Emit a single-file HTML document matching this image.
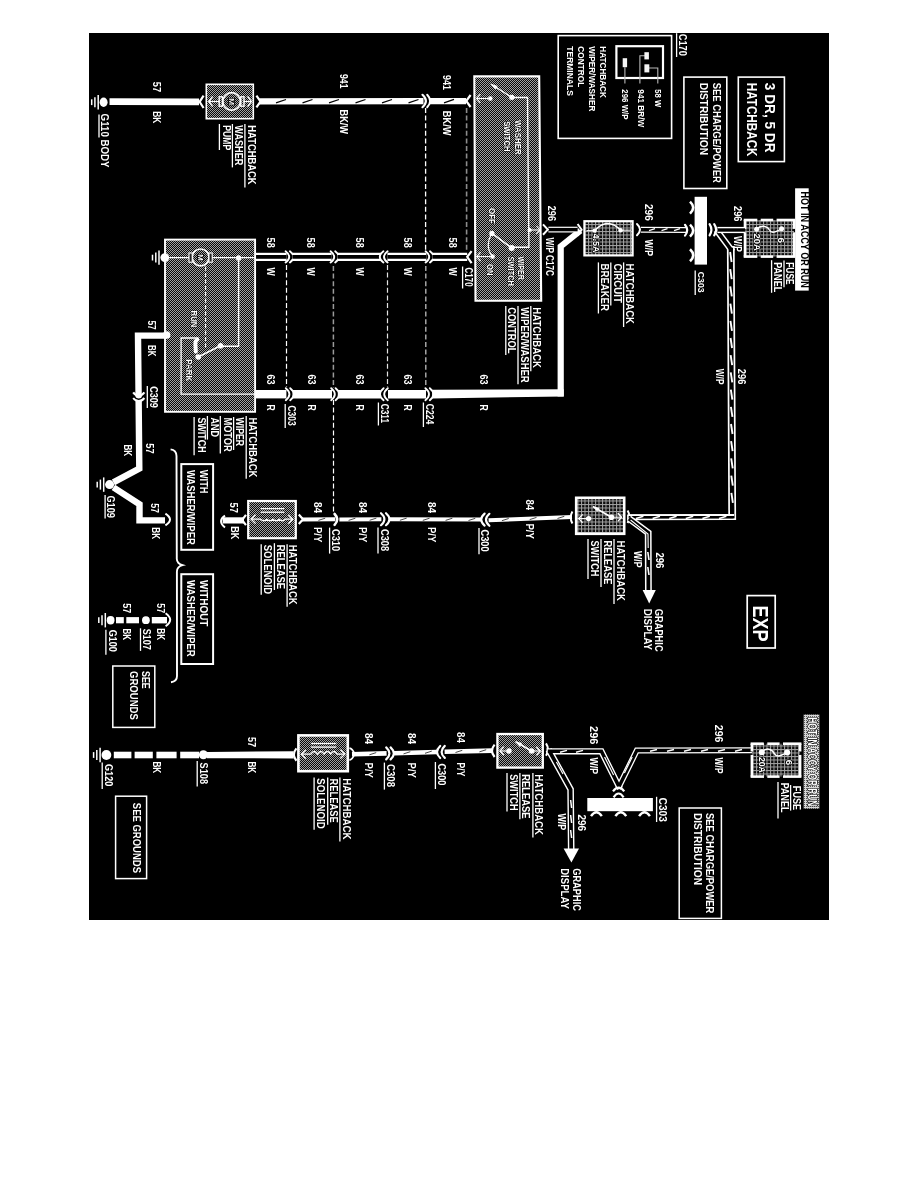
<!DOCTYPE html>
<html lang="en"><head><meta charset="utf-8"><title>EXP Hatchback Wiper/Washer and Release Wiring Diagram</title>
<style>
html,body{margin:0;padding:0;background:#fff;}
body{width:918px;height:1188px;overflow:hidden;font-family:"Liberation Sans", sans-serif;}
svg{display:block;position:absolute;left:0;top:0;will-change:transform;}
svg text{font-family:"Liberation Sans", sans-serif;}
</style></head><body>
<svg width="918" height="1188" viewBox="0 0 918 1188">
<defs>
<pattern id="dz" width="2" height="2" patternUnits="userSpaceOnUse">
<rect width="2" height="2" fill="#080808"/><rect x="0" y="0" width="1" height="1" fill="#a2a2a2"/><rect x="1" y="1" width="1" height="1" fill="#a2a2a2"/>
</pattern>
<pattern id="gr" width="3.5" height="3.5" patternUnits="userSpaceOnUse">
<rect width="3.5" height="3.5" fill="#0a0a0a"/><rect x="0" y="0" width="3.5" height="1" fill="#a4a4a4"/><rect x="0" y="0" width="1" height="3.5" fill="#a4a4a4"/>
</pattern>
<pattern id="lt" width="2" height="2" patternUnits="userSpaceOnUse">
<rect width="2" height="2" fill="#d6d6d6"/><rect x="0" y="0" width="1" height="1" fill="#5a5a5a"/>
</pattern>
</defs>
<rect x="0" y="0" width="918" height="1188" fill="#fff"/>
<rect x="89" y="33" width="740" height="887" fill="#000"/>

<ellipse cx="103.6" cy="102.2" rx="4.0" ry="4.7" fill="#fff"/>
<line x1="98.2" y1="95.0" x2="98.2" y2="109.4" stroke="#fff" stroke-width="1.5"/>
<line x1="94.9" y1="97.2" x2="94.9" y2="107.2" stroke="#fff" stroke-width="1.5"/>
<line x1="91.7" y1="99.3" x2="91.7" y2="105.1" stroke="#fff" stroke-width="1.5"/>
<path d="M109.5 101.6 L199.0 101.9" fill="none" stroke="#fff" stroke-width="6.9" stroke-linejoin="miter"/>
<text transform="translate(153.2 81.8) rotate(90)" font-size="10.3" font-weight="bold" fill="#fff" textLength="10.3" lengthAdjust="spacingAndGlyphs" >57</text>
<text transform="translate(153.2 111.2) rotate(90)" font-size="10.3" font-weight="bold" fill="#fff" textLength="12.2" lengthAdjust="spacingAndGlyphs" >BK</text>
<text transform="translate(101.2 113.6) rotate(90)" font-size="10.3" font-weight="bold" fill="#fff" textLength="53.9" lengthAdjust="spacingAndGlyphs" >G110 BODY</text>
<line x1="99.0" y1="114.6" x2="99.0" y2="137.6" stroke="#fff" stroke-width="1.3"/>
<rect x="206.3" y="84.3" width="47.0" height="34.4" fill="url(#dz)" stroke="#fff" stroke-width="1.6" />
<circle cx="231.6" cy="101.5" r="8.8" fill="none" stroke="#fff" stroke-width="1.8"/>
<text transform="translate(228.9 98.2) rotate(90)" font-size="8" font-weight="bold" fill="#fff" textLength="6.8" lengthAdjust="spacingAndGlyphs" paint-order="stroke" stroke="#000" stroke-width="1.6">M</text>
<rect x="219.2" y="96.8" width="3.2" height="9.4" fill="none" stroke="#fff" stroke-width="1.4" />
<rect x="240.8" y="96.8" width="3.2" height="9.4" fill="none" stroke="#fff" stroke-width="1.4" />
<path d="M208.8 101.5 L219.3 101.5" fill="none" stroke="#fff" stroke-width="1.2" />
<path d="M243.8 101.5 L251.4 101.5" fill="none" stroke="#fff" stroke-width="1.2" />
<path d="M212.6 96.4 L208.8 101.5 L212.6 106.6" fill="none" stroke="#fff" stroke-width="1.3" />
<path d="M247.6 96.4 L251.4 101.5 L247.6 106.6" fill="none" stroke="#fff" stroke-width="1.3" />
<path d="M203.6 95.6 L199.6 101.8 L203.6 108.0" fill="none" stroke="#fff" stroke-width="2.2" />
<path d="M256.4 95.6 L260.6 101.5 L256.4 107.4" fill="none" stroke="#fff" stroke-width="2.2" />
<text transform="translate(248.0 125.3) rotate(90)" font-size="10.6" font-weight="bold" fill="#fff" textLength="59.3" lengthAdjust="spacingAndGlyphs" >HATCHBACK</text>
<line x1="244.9" y1="124.0" x2="244.9" y2="187.6" stroke="#fff" stroke-width="1.3"/>
<text transform="translate(235.2 125.3) rotate(90)" font-size="10.6" font-weight="bold" fill="#fff" textLength="40.1" lengthAdjust="spacingAndGlyphs" >WASHER</text>
<line x1="232.4" y1="124.0" x2="232.4" y2="167.4" stroke="#fff" stroke-width="1.3"/>
<text transform="translate(222.5 125.3) rotate(90)" font-size="10.6" font-weight="bold" fill="#fff" textLength="25.0" lengthAdjust="spacingAndGlyphs" >PUMP</text>
<line x1="219.4" y1="124.0" x2="219.4" y2="150.0" stroke="#fff" stroke-width="1.3"/>
<path d="M259.5 101.4 L423.5 101.1" fill="none" stroke="#fff" stroke-width="6.4" stroke-linejoin="miter"/>
<line x1="276.0" y1="102.9" x2="286.0" y2="99.5" stroke="#000" stroke-width="1.3"/>
<line x1="302.5" y1="102.9" x2="312.5" y2="99.5" stroke="#000" stroke-width="1.3"/>
<line x1="329.0" y1="102.9" x2="339.0" y2="99.5" stroke="#000" stroke-width="1.3"/>
<line x1="355.5" y1="102.9" x2="365.5" y2="99.5" stroke="#000" stroke-width="1.3"/>
<line x1="382.0" y1="102.9" x2="392.0" y2="99.5" stroke="#000" stroke-width="1.3"/>
<line x1="408.5" y1="102.9" x2="418.5" y2="99.5" stroke="#000" stroke-width="1.3"/>
<path d="M422.5 94.8 Q429.3 101.0 422.5 107.2" fill="none" stroke="#fff" stroke-width="2.2" stroke-linecap="round"/>
<path d="M427.2 94.8 Q433.2 101.0 427.2 107.2" fill="none" stroke="#fff" stroke-width="2.0" stroke-linecap="round"/>
<path d="M429.5 101.1 L466.0 101.1" fill="none" stroke="#fff" stroke-width="6.2" stroke-linejoin="miter"/>
<line x1="444.0" y1="102.8" x2="454.0" y2="99.4" stroke="#000" stroke-width="1.3"/>
<path d="M470.6 95.0 L466.2 101.0 L470.6 107.0" fill="none" stroke="#fff" stroke-width="2.2" />
<text transform="translate(340.0 74.0) rotate(90)" font-size="10.0" font-weight="bold" fill="#fff" textLength="14.6" lengthAdjust="spacingAndGlyphs" >941</text>
<text transform="translate(340.0 109.5) rotate(90)" font-size="10.0" font-weight="bold" fill="#fff" textLength="24.5" lengthAdjust="spacingAndGlyphs" >BK/W</text>
<text transform="translate(442.8 75.0) rotate(90)" font-size="10.0" font-weight="bold" fill="#fff" textLength="15.0" lengthAdjust="spacingAndGlyphs" >941</text>
<text transform="translate(442.8 110.8) rotate(90)" font-size="10.0" font-weight="bold" fill="#fff" textLength="24.7" lengthAdjust="spacingAndGlyphs" >BK/W</text>
<line x1="425.6" y1="108.0" x2="425.6" y2="251.0" stroke="#fff" stroke-width="1.3" stroke-dasharray="5 2.6"/>
<line x1="466.6" y1="108.0" x2="466.6" y2="250.0" stroke="#8c8c8c" stroke-width="1.6" stroke-dasharray="5 2.6"/>
<path d="M474.3 76.4 L539.2 76.4 L541.2 300.8 L475.5 300.8 Z" fill="url(#dz)" stroke="#fff" stroke-width="2.1"/>
<path d="M476.6 98.5 L490.3 98.5" fill="none" stroke="#fff" stroke-width="1.1" />
<path d="M480.4 94.2 L476.6 98.5 L480.4 102.8" fill="none" stroke="#fff" stroke-width="1.2" />
<circle cx="490.3" cy="98.5" r="2.3" fill="#fff" stroke="none" stroke-width="0"/>
<circle cx="511.8" cy="97.3" r="2.6" fill="#fff" stroke="none" stroke-width="0"/>
<path d="M511.8 97.3 L492.0 84.8" fill="none" stroke="#fff" stroke-width="1.3" />
<path d="M490.2 83.6 L497.6 86.0 L495.4 89.4 Z" fill="#fff"/>
<path d="M511.8 97.5 L527.5 97.5 L528.9 247.2 L511.6 247.2" fill="none" stroke="#fff" stroke-width="1.4" />
<text transform="translate(515.2 120.0) rotate(90)" font-size="9.2" font-weight="bold" fill="#fff" textLength="34.7" lengthAdjust="spacingAndGlyphs" paint-order="stroke" stroke="#000" stroke-width="0.9">WASHER</text>
<text transform="translate(504.3 121.2) rotate(90)" font-size="9.2" font-weight="bold" fill="#fff" textLength="30.3" lengthAdjust="spacingAndGlyphs" paint-order="stroke" stroke="#000" stroke-width="0.9">SWITCH</text>
<circle cx="529.6" cy="230.0" r="2.1" fill="#fff" stroke="none" stroke-width="0"/>
<path d="M529.6 230.0 L540.5 230.0" fill="none" stroke="#fff" stroke-width="1.1" />
<path d="M536.4 226.0 L540.0 230.0 L536.4 234.0" fill="none" stroke="#fff" stroke-width="1.1" />
<circle cx="511.6" cy="248.0" r="3.0" fill="#fff" stroke="none" stroke-width="0"/>
<path d="M511.6 248.0 L492.4 233.6" fill="none" stroke="#fff" stroke-width="1.5" />
<circle cx="491.9" cy="233.4" r="2.6" fill="#fff" stroke="none" stroke-width="0"/>
<path d="M491.6 233.6 Q484.5 246 492.4 256.4" fill="none" stroke="#fff" stroke-width="1.2"/>
<circle cx="492.6" cy="256.6" r="2.3" fill="#fff" stroke="none" stroke-width="0"/>
<path d="M476.8 256.6 L492.6 256.6" fill="none" stroke="#fff" stroke-width="1.1" />
<path d="M480.6 252.2 L476.8 256.6 L480.6 261.0" fill="none" stroke="#fff" stroke-width="1.2" />
<text transform="translate(488.6 208.0) rotate(90)" font-size="8.8" font-weight="bold" fill="#fff" textLength="16.0" lengthAdjust="spacingAndGlyphs" paint-order="stroke" stroke="#000" stroke-width="0.9">OFF</text>
<text transform="translate(487.4 264.0) rotate(90)" font-size="8.8" font-weight="bold" fill="#fff" textLength="11.5" lengthAdjust="spacingAndGlyphs" paint-order="stroke" stroke="#000" stroke-width="0.9">ON</text>
<text transform="translate(518.3 256.5) rotate(90)" font-size="9.0" font-weight="bold" fill="#fff" textLength="23.5" lengthAdjust="spacingAndGlyphs" paint-order="stroke" stroke="#000" stroke-width="0.9">WIPER</text>
<text transform="translate(507.7 256.5) rotate(90)" font-size="9.0" font-weight="bold" fill="#fff" textLength="29.5" lengthAdjust="spacingAndGlyphs" paint-order="stroke" stroke="#000" stroke-width="0.9">SWITCH</text>
<text transform="translate(533.2 307.3) rotate(90)" font-size="10.4" font-weight="bold" fill="#fff" textLength="60.7" lengthAdjust="spacingAndGlyphs" >HATCHBACK</text>
<line x1="530.8" y1="306.0" x2="530.8" y2="371.2" stroke="#fff" stroke-width="1.3"/>
<text transform="translate(520.7 307.3) rotate(90)" font-size="10.4" font-weight="bold" fill="#fff" textLength="75.4" lengthAdjust="spacingAndGlyphs" >WIPER/WASHER</text>
<line x1="518.0" y1="306.0" x2="518.0" y2="384.3" stroke="#fff" stroke-width="1.3"/>
<text transform="translate(508.2 307.3) rotate(90)" font-size="10.4" font-weight="bold" fill="#fff" textLength="46.1" lengthAdjust="spacingAndGlyphs" >CONTROL</text>
<line x1="505.8" y1="306.0" x2="505.8" y2="355.0" stroke="#fff" stroke-width="1.3"/>
<path d="M255.5 256.9 L286.6 256.9" fill="none" stroke="#fff" stroke-width="8.2" stroke-linejoin="miter"/>
<path d="M255.5 256.9 L286.6 256.9" fill="none" stroke="#000" stroke-width="3.8" stroke-linejoin="miter"/>
<path d="M285.6 251.3 Q292.8 256.9 285.6 262.5" fill="none" stroke="#fff" stroke-width="1.9" stroke-linecap="round"/>
<path d="M289.9 251.3 Q297.1 256.9 289.9 262.5" fill="none" stroke="#fff" stroke-width="1.9" stroke-linecap="round"/>
<path d="M292.4 256.9 L331.6 256.9" fill="none" stroke="#fff" stroke-width="8.2" stroke-linejoin="miter"/>
<path d="M292.4 256.9 L331.6 256.9" fill="none" stroke="#000" stroke-width="3.8" stroke-linejoin="miter"/>
<path d="M330.6 251.3 Q337.8 256.9 330.6 262.5" fill="none" stroke="#fff" stroke-width="1.9" stroke-linecap="round"/>
<path d="M335.2 251.3 Q342.4 256.9 335.2 262.5" fill="none" stroke="#fff" stroke-width="1.9" stroke-linecap="round"/>
<path d="M337.6 256.9 L381.0 256.9" fill="none" stroke="#fff" stroke-width="8.2" stroke-linejoin="miter"/>
<path d="M337.6 256.9 L381.0 256.9" fill="none" stroke="#000" stroke-width="3.8" stroke-linejoin="miter"/>
<path d="M383.4 251.3 Q376.2 256.9 383.4 262.5" fill="none" stroke="#fff" stroke-width="1.9" stroke-linecap="round"/>
<path d="M387.6 251.3 Q380.4 256.9 387.6 262.5" fill="none" stroke="#fff" stroke-width="1.9" stroke-linecap="round"/>
<path d="M387.4 256.9 L426.4 256.9" fill="none" stroke="#fff" stroke-width="8.2" stroke-linejoin="miter"/>
<path d="M387.4 256.9 L426.4 256.9" fill="none" stroke="#000" stroke-width="3.8" stroke-linejoin="miter"/>
<path d="M425.6 251.3 Q432.8 256.9 425.6 262.5" fill="none" stroke="#fff" stroke-width="1.9" stroke-linecap="round"/>
<path d="M430.0 251.3 Q437.2 256.9 430.0 262.5" fill="none" stroke="#fff" stroke-width="1.9" stroke-linecap="round"/>
<path d="M432.4 256.9 L467.2 256.9" fill="none" stroke="#fff" stroke-width="8.2" stroke-linejoin="miter"/>
<path d="M432.4 256.9 L467.2 256.9" fill="none" stroke="#000" stroke-width="3.8" stroke-linejoin="miter"/>
<path d="M471.6 251.2 L467.2 256.9 L471.6 263.2" fill="none" stroke="#fff" stroke-width="2.2" />
<text transform="translate(266.5 237.6) rotate(90)" font-size="10.0" font-weight="bold" fill="#fff" textLength="10.1" lengthAdjust="spacingAndGlyphs" >58</text>
<text transform="translate(266.5 267.4) rotate(90)" font-size="10.0" font-weight="bold" fill="#fff" textLength="8.2" lengthAdjust="spacingAndGlyphs" >W</text>
<text transform="translate(306.5 237.6) rotate(90)" font-size="10.0" font-weight="bold" fill="#fff" textLength="10.1" lengthAdjust="spacingAndGlyphs" >58</text>
<text transform="translate(306.5 267.4) rotate(90)" font-size="10.0" font-weight="bold" fill="#fff" textLength="8.2" lengthAdjust="spacingAndGlyphs" >W</text>
<text transform="translate(355.8 237.6) rotate(90)" font-size="10.0" font-weight="bold" fill="#fff" textLength="10.1" lengthAdjust="spacingAndGlyphs" >58</text>
<text transform="translate(355.8 267.4) rotate(90)" font-size="10.0" font-weight="bold" fill="#fff" textLength="8.2" lengthAdjust="spacingAndGlyphs" >W</text>
<text transform="translate(403.7 237.6) rotate(90)" font-size="10.0" font-weight="bold" fill="#fff" textLength="10.1" lengthAdjust="spacingAndGlyphs" >58</text>
<text transform="translate(403.7 267.4) rotate(90)" font-size="10.0" font-weight="bold" fill="#fff" textLength="8.2" lengthAdjust="spacingAndGlyphs" >W</text>
<text transform="translate(448.7 237.6) rotate(90)" font-size="10.0" font-weight="bold" fill="#fff" textLength="10.1" lengthAdjust="spacingAndGlyphs" >58</text>
<text transform="translate(448.7 267.4) rotate(90)" font-size="10.0" font-weight="bold" fill="#fff" textLength="8.2" lengthAdjust="spacingAndGlyphs" >W</text>
<text transform="translate(465.2 267.6) rotate(90)" font-size="10.0" font-weight="bold" fill="#fff" textLength="19.0" lengthAdjust="spacingAndGlyphs" >C170</text>
<line x1="462.6" y1="266.5" x2="462.6" y2="288.5" stroke="#fff" stroke-width="1.3"/>
<line x1="286.5" y1="265.0" x2="286.5" y2="387.0" stroke="#fff" stroke-width="1.2" stroke-dasharray="5 2.6"/>
<line x1="333.4" y1="266.0" x2="333.4" y2="388.0" stroke="#9a9a9a" stroke-width="1.5" stroke-dasharray="5 2.6"/>
<line x1="333.5" y1="400.0" x2="333.5" y2="514.0" stroke="#fff" stroke-width="1.2" stroke-dasharray="5 2.6"/>
<line x1="387.5" y1="265.0" x2="387.5" y2="387.0" stroke="#e4e4e4" stroke-width="1.2" stroke-dasharray="5 2.6"/>
<line x1="425.8" y1="266.0" x2="425.8" y2="386.0" stroke="#bdbdbd" stroke-width="1.3" stroke-dasharray="5 2.6"/>
<path d="M255.5 394.2 L286.4 394.2" fill="none" stroke="#fff" stroke-width="8.4" stroke-linejoin="miter"/>
<path d="M285.8 388.2 Q293.0 394.2 285.8 400.2" fill="none" stroke="#fff" stroke-width="1.9" stroke-linecap="round"/>
<path d="M290.2 388.2 Q297.4 394.2 290.2 400.2" fill="none" stroke="#fff" stroke-width="1.9" stroke-linecap="round"/>
<path d="M292.6 394.2 L332.0 394.2" fill="none" stroke="#fff" stroke-width="8.4" stroke-linejoin="miter"/>
<path d="M331.2 388.2 Q338.4 394.2 331.2 400.2" fill="none" stroke="#fff" stroke-width="1.9" stroke-linecap="round"/>
<path d="M335.6 388.2 Q342.8 394.2 335.6 400.2" fill="none" stroke="#fff" stroke-width="1.9" stroke-linecap="round"/>
<path d="M337.8 394.2 L380.6 394.2" fill="none" stroke="#fff" stroke-width="8.4" stroke-linejoin="miter"/>
<path d="M383.6 388.2 Q376.4 394.2 383.6 400.2" fill="none" stroke="#fff" stroke-width="1.9" stroke-linecap="round"/>
<path d="M387.8 388.2 Q380.6 394.2 387.8 400.2" fill="none" stroke="#fff" stroke-width="1.9" stroke-linecap="round"/>
<path d="M388.0 394.2 L426.0 394.2" fill="none" stroke="#fff" stroke-width="8.4" stroke-linejoin="miter"/>
<path d="M425.4 388.2 Q432.6 394.2 425.4 400.2" fill="none" stroke="#fff" stroke-width="1.9" stroke-linecap="round"/>
<path d="M429.8 388.2 Q437.0 394.2 429.8 400.2" fill="none" stroke="#fff" stroke-width="1.9" stroke-linecap="round"/>
<path d="M432.2 389.8 L563.7 389.2 L563.7 396.6 L432.2 398.4 Z" fill="#fff"/>
<path d="M560.7 396.6 L560.7 246.4 L580.4 230.6" fill="none" stroke="#fff" stroke-width="6.2" stroke-linejoin="miter"/>
<text transform="translate(266.5 374.4) rotate(90)" font-size="10.0" font-weight="bold" fill="#fff" textLength="10.0" lengthAdjust="spacingAndGlyphs" >63</text>
<text transform="translate(266.5 404.4) rotate(90)" font-size="10.0" font-weight="bold" fill="#fff" textLength="6.2" lengthAdjust="spacingAndGlyphs" >R</text>
<text transform="translate(308.3 374.4) rotate(90)" font-size="10.0" font-weight="bold" fill="#fff" textLength="10.0" lengthAdjust="spacingAndGlyphs" >63</text>
<text transform="translate(308.3 404.4) rotate(90)" font-size="10.0" font-weight="bold" fill="#fff" textLength="6.2" lengthAdjust="spacingAndGlyphs" >R</text>
<text transform="translate(355.8 374.4) rotate(90)" font-size="10.0" font-weight="bold" fill="#fff" textLength="10.0" lengthAdjust="spacingAndGlyphs" >63</text>
<text transform="translate(355.8 404.4) rotate(90)" font-size="10.0" font-weight="bold" fill="#fff" textLength="6.2" lengthAdjust="spacingAndGlyphs" >R</text>
<text transform="translate(404.2 374.4) rotate(90)" font-size="10.0" font-weight="bold" fill="#fff" textLength="10.0" lengthAdjust="spacingAndGlyphs" >63</text>
<text transform="translate(404.2 404.4) rotate(90)" font-size="10.0" font-weight="bold" fill="#fff" textLength="6.2" lengthAdjust="spacingAndGlyphs" >R</text>
<text transform="translate(480.0 374.4) rotate(90)" font-size="10.0" font-weight="bold" fill="#fff" textLength="10.0" lengthAdjust="spacingAndGlyphs" >63</text>
<text transform="translate(480.0 404.4) rotate(90)" font-size="10.0" font-weight="bold" fill="#fff" textLength="6.2" lengthAdjust="spacingAndGlyphs" >R</text>
<text transform="translate(287.6 405.5) rotate(90)" font-size="10.0" font-weight="bold" fill="#fff" textLength="20.2" lengthAdjust="spacingAndGlyphs" >C303</text>
<line x1="285.2" y1="404.0" x2="285.2" y2="428.0" stroke="#fff" stroke-width="1.3"/>
<text transform="translate(381.0 403.7) rotate(90)" font-size="10.0" font-weight="bold" fill="#fff" textLength="19.3" lengthAdjust="spacingAndGlyphs" >C311</text>
<line x1="378.4" y1="402.5" x2="378.4" y2="425.5" stroke="#fff" stroke-width="1.3"/>
<text transform="translate(426.0 403.7) rotate(90)" font-size="10.0" font-weight="bold" fill="#fff" textLength="20.7" lengthAdjust="spacingAndGlyphs" >C224</text>
<line x1="423.4" y1="402.5" x2="423.4" y2="427.0" stroke="#fff" stroke-width="1.3"/>
<rect x="165.0" y="239.6" width="90.1" height="172.2" fill="url(#dz)" stroke="#fff" stroke-width="1.9" />
<ellipse cx="164.8" cy="257.6" rx="4.4" ry="4.4" fill="#fff"/>
<line x1="159.0" y1="250.4" x2="159.0" y2="264.8" stroke="#fff" stroke-width="1.5"/>
<line x1="155.8" y1="252.6" x2="155.8" y2="262.6" stroke="#fff" stroke-width="1.5"/>
<line x1="152.5" y1="254.7" x2="152.5" y2="260.5" stroke="#fff" stroke-width="1.5"/>
<path d="M165.0 257.6 L255.0 257.6" fill="none" stroke="#fff" stroke-width="1.3" />
<circle cx="200.6" cy="257.4" r="8.4" fill="url(#dz)" stroke="#fff" stroke-width="1.7"/>
<text transform="translate(198.0 254.2) rotate(90)" font-size="7.8" font-weight="bold" fill="#fff" textLength="6.6" lengthAdjust="spacingAndGlyphs" paint-order="stroke" stroke="#000" stroke-width="1.6">M</text>
<rect x="189.0" y="253.0" width="3.2" height="9.2" fill="#222" stroke="#fff" stroke-width="1.1" />
<rect x="209.0" y="253.0" width="3.2" height="9.2" fill="#222" stroke="#fff" stroke-width="1.1" />
<circle cx="238.6" cy="257.9" r="2.7" fill="#fff" stroke="none" stroke-width="0"/>
<path d="M238.6 257.8 L238.6 346.2 L220.4 346.2" fill="none" stroke="#fff" stroke-width="1.4" />
<circle cx="220.5" cy="345.8" r="2.8" fill="#fff" stroke="none" stroke-width="0"/>
<path d="M220.5 345.8 L198.2 357.0" fill="none" stroke="#fff" stroke-width="1.7" />
<circle cx="198.2" cy="357.0" r="2.8" fill="#fff" stroke="none" stroke-width="0"/>
<line x1="205.6" y1="266.5" x2="205.6" y2="347.5" stroke="#fff" stroke-width="1.1" stroke-dasharray="4.2 2.2"/>
<text transform="translate(191.2 310.5) rotate(90)" font-size="9.0" font-weight="bold" fill="#fff" textLength="16.9" lengthAdjust="spacingAndGlyphs" paint-order="stroke" stroke="#000" stroke-width="0.9">RUN</text>
<text transform="translate(186.2 359.2) rotate(90)" font-size="8.8" font-weight="bold" fill="#fff" textLength="22.0" lengthAdjust="spacingAndGlyphs" paint-order="stroke" stroke="#000" stroke-width="0.9">PARK</text>
<path d="M197.4 339.6 Q195.2 340.4 195.4 344 L195.8 351.6" fill="none" stroke="#fff" stroke-width="4.0" stroke-linecap="round" stroke-linejoin="round"/>
<path d="M198.4 338.0 L181.1 338.0 L181.1 394.2 L255.0 394.2" fill="none" stroke="#fff" stroke-width="1.3" />
<circle cx="166.6" cy="335.0" r="3.8" fill="#fff" stroke="none" stroke-width="0"/>
<path d="M166.6 335.6 L138.0 335.6 L139.3 468.6 L113.4 482.4" fill="none" stroke="#fff" stroke-width="6.4" stroke-linejoin="miter"/>
<text transform="translate(147.8 320.4) rotate(90)" font-size="10.0" font-weight="bold" fill="#fff" textLength="9.4" lengthAdjust="spacingAndGlyphs" >57</text>
<text transform="translate(147.8 345.0) rotate(90)" font-size="10.0" font-weight="bold" fill="#fff" textLength="11.4" lengthAdjust="spacingAndGlyphs" >BK</text>
<path d="M133.2 392.4 Q138.6 399.8 144.4 392.4" fill="none" stroke="#fff" stroke-width="2.2"/>
<path d="M133.4 396.0 Q138.6 402.6 144.2 396.0" fill="none" stroke="#000" stroke-width="1.5"/>
<path d="M133.2 398.0 Q138.6 404.8 144.4 398.0" fill="none" stroke="#fff" stroke-width="2.0"/>
<text transform="translate(149.7 386.3) rotate(90)" font-size="10.0" font-weight="bold" fill="#fff" textLength="21.6" lengthAdjust="spacingAndGlyphs" >C309</text>
<line x1="147.3" y1="386.0" x2="147.3" y2="407.9" stroke="#fff" stroke-width="1.3"/>
<text transform="translate(145.6 443.2) rotate(90)" font-size="10.0" font-weight="bold" fill="#fff" textLength="10.5" lengthAdjust="spacingAndGlyphs" >57</text>
<text transform="translate(123.8 444.4) rotate(90)" font-size="10.0" font-weight="bold" fill="#fff" textLength="11.8" lengthAdjust="spacingAndGlyphs" >BK</text>
<ellipse cx="109.6" cy="484.6" rx="4.5" ry="4.5" fill="#fff"/>
<line x1="103.7" y1="477.4" x2="103.7" y2="491.8" stroke="#fff" stroke-width="1.5"/>
<line x1="100.4" y1="479.6" x2="100.4" y2="489.6" stroke="#fff" stroke-width="1.5"/>
<line x1="97.2" y1="481.7" x2="97.2" y2="487.5" stroke="#fff" stroke-width="1.5"/>
<path d="M113.4 487.4 L139.5 504.2 L139.5 520.4 L165.0 520.4" fill="none" stroke="#fff" stroke-width="6.4" stroke-linejoin="miter"/>
<text transform="translate(107.2 495.4) rotate(90)" font-size="10.0" font-weight="bold" fill="#fff" textLength="22.6" lengthAdjust="spacingAndGlyphs" >G109</text>
<line x1="105.1" y1="495.0" x2="105.1" y2="518.4" stroke="#fff" stroke-width="1.3"/>
<text transform="translate(151.4 503.2) rotate(90)" font-size="10.0" font-weight="bold" fill="#fff" textLength="9.8" lengthAdjust="spacingAndGlyphs" >57</text>
<text transform="translate(151.6 527.3) rotate(90)" font-size="10.0" font-weight="bold" fill="#fff" textLength="11.9" lengthAdjust="spacingAndGlyphs" >BK</text>
<path d="M165.4 513.6 Q174.6 519.6 165.4 525.4" fill="none" stroke="#fff" stroke-width="2.0"/>
<text transform="translate(248.6 417.4) rotate(90)" font-size="10.2" font-weight="bold" fill="#fff" textLength="60.1" lengthAdjust="spacingAndGlyphs" >HATCHBACK</text>
<line x1="246.2" y1="416.1" x2="246.2" y2="478.8" stroke="#fff" stroke-width="1.3"/>
<text transform="translate(236.0 417.4) rotate(90)" font-size="10.2" font-weight="bold" fill="#fff" textLength="28.8" lengthAdjust="spacingAndGlyphs" >WIPER</text>
<line x1="233.6" y1="417.0" x2="233.6" y2="450.0" stroke="#fff" stroke-width="1.3"/>
<text transform="translate(223.6 417.4) rotate(90)" font-size="10.2" font-weight="bold" fill="#fff" textLength="34.4" lengthAdjust="spacingAndGlyphs" >MOTOR</text>
<line x1="220.3" y1="416.0" x2="220.3" y2="453.6" stroke="#fff" stroke-width="1.3"/>
<text transform="translate(210.9 417.4) rotate(90)" font-size="10.2" font-weight="bold" fill="#fff" textLength="19.6" lengthAdjust="spacingAndGlyphs" >AND</text>
<line x1="207.4" y1="416.0" x2="207.4" y2="439.6" stroke="#fff" stroke-width="1.3"/>
<text transform="translate(198.3 417.4) rotate(90)" font-size="10.2" font-weight="bold" fill="#fff" textLength="35.3" lengthAdjust="spacingAndGlyphs" >SWITCH</text>
<line x1="194.1" y1="417.0" x2="194.1" y2="455.3" stroke="#fff" stroke-width="1.3"/>
<path d="M170.6 449.4 Q176.4 450.0 176.5 456 L176.8 559 Q177.0 563.6 182.6 565.2 Q177.0 566.8 176.9 571.4 L177.0 676 Q177.0 681.4 171.0 682.2" fill="none" stroke="#fff" stroke-width="1.9"/>
<rect x="181.3" y="464.1" width="31.8" height="85.7" fill="none" stroke="#fff" stroke-width="2.0" />
<text transform="translate(200.0 469.8) rotate(90)" font-size="10.2" font-weight="bold" fill="#fff" textLength="23.8" lengthAdjust="spacingAndGlyphs" >WITH</text>
<text transform="translate(187.2 470.0) rotate(90)" font-size="10.7" font-weight="bold" fill="#fff" textLength="74.7" lengthAdjust="spacingAndGlyphs" >WASHER/WIPER</text>
<rect x="181.3" y="574.2" width="31.8" height="89.8" fill="none" stroke="#fff" stroke-width="2.0" />
<text transform="translate(200.0 580.0) rotate(90)" font-size="10.2" font-weight="bold" fill="#fff" textLength="46.4" lengthAdjust="spacingAndGlyphs" >WITHOUT</text>
<text transform="translate(187.2 580.0) rotate(90)" font-size="10.7" font-weight="bold" fill="#fff" textLength="76.8" lengthAdjust="spacingAndGlyphs" >WASHER/WIPER</text>
<path d="M165.6 613.2 Q174.8 619.8 165.6 626.2" fill="none" stroke="#fff" stroke-width="2.0"/>
<path d="M151.8 620.2 L167.0 620.2" fill="none" stroke="#fff" stroke-width="6.4" stroke-linejoin="miter"/>
<circle cx="145.9" cy="620.2" r="3.9" fill="#fff" stroke="none" stroke-width="0"/>
<path d="M126.3 620.2 L139.0 620.2" fill="none" stroke="#fff" stroke-width="6.2" stroke-linejoin="miter"/>
<path d="M116.0 620.2 L123.8 620.2" fill="none" stroke="#fff" stroke-width="6.2" stroke-linejoin="miter"/>
<ellipse cx="110.6" cy="620.2" rx="3.9" ry="4.2" fill="#fff"/>
<line x1="105.3" y1="613.0" x2="105.3" y2="627.4" stroke="#fff" stroke-width="1.5"/>
<line x1="102.0" y1="615.2" x2="102.0" y2="625.2" stroke="#fff" stroke-width="1.5"/>
<line x1="98.8" y1="617.3" x2="98.8" y2="623.1" stroke="#fff" stroke-width="1.5"/>
<text transform="translate(157.2 603.3) rotate(90)" font-size="10.0" font-weight="bold" fill="#fff" textLength="9.8" lengthAdjust="spacingAndGlyphs" >57</text>
<text transform="translate(157.2 628.3) rotate(90)" font-size="10.0" font-weight="bold" fill="#fff" textLength="11.8" lengthAdjust="spacingAndGlyphs" >BK</text>
<text transform="translate(142.9 628.8) rotate(90)" font-size="10.0" font-weight="bold" fill="#fff" textLength="21.1" lengthAdjust="spacingAndGlyphs" >S107</text>
<line x1="140.5" y1="628.3" x2="140.5" y2="650.9" stroke="#fff" stroke-width="1.3"/>
<text transform="translate(123.3 603.3) rotate(90)" font-size="10.0" font-weight="bold" fill="#fff" textLength="10.0" lengthAdjust="spacingAndGlyphs" >57</text>
<text transform="translate(123.3 628.6) rotate(90)" font-size="10.0" font-weight="bold" fill="#fff" textLength="11.5" lengthAdjust="spacingAndGlyphs" >BK</text>
<text transform="translate(109.1 629.8) rotate(90)" font-size="10.0" font-weight="bold" fill="#fff" textLength="22.1" lengthAdjust="spacingAndGlyphs" >G100</text>
<line x1="105.9" y1="629.8" x2="105.9" y2="654.8" stroke="#fff" stroke-width="1.3"/>
<rect x="112.8" y="666.0" width="42.0" height="61.4" fill="none" stroke="#fff" stroke-width="1.5" />
<text transform="translate(142.0 671.0) rotate(90)" font-size="10.4" font-weight="bold" fill="#fff" textLength="17.8" lengthAdjust="spacingAndGlyphs" >SEE</text>
<text transform="translate(129.6 671.0) rotate(90)" font-size="10.8" font-weight="bold" fill="#fff" textLength="48.8" lengthAdjust="spacingAndGlyphs" >GROUNDS</text>
<path d="M222.6 520.4 L244.0 520.4" fill="none" stroke="#fff" stroke-width="6.2" stroke-linejoin="miter"/>
<path d="M225.0 515.6 Q217.0 521.0 225.0 527.6" fill="none" stroke="#fff" stroke-width="1.9"/>
<text transform="translate(230.2 502.6) rotate(90)" font-size="10.0" font-weight="bold" fill="#fff" textLength="10.4" lengthAdjust="spacingAndGlyphs" >57</text>
<text transform="translate(230.6 526.2) rotate(90)" font-size="10.0" font-weight="bold" fill="#fff" textLength="13.0" lengthAdjust="spacingAndGlyphs" >BK</text>
<rect x="248.2" y="501.0" width="47.6" height="37.2" fill="url(#dz)" stroke="#fff" stroke-width="2.2" />
<path d="M251.2 519.2 L260.7 519.2 q3.08 3.00 6.15 0 q3.08 3.00 6.15 0 q3.08 3.00 6.15 0 q3.08 3.00 6.15 0 L292.8 519.2" fill="none" stroke="#fff" stroke-width="1.3"/>
<path d="M260.7 508.6 L284.3 508.6" fill="none" stroke="#fff" stroke-width="1.3" />
<path d="M260.7 512.2 L284.3 512.2" fill="none" stroke="#fff" stroke-width="1.3" />
<path d="M255.6 514.8 L251.2 519.2 L255.6 523.6" fill="none" stroke="#fff" stroke-width="1.3" />
<path d="M288.4 514.8 L292.8 519.2 L288.4 523.6" fill="none" stroke="#fff" stroke-width="1.3" />
<path d="M246.0 514.8 L242.0 520.0 L246.0 525.2" fill="none" stroke="#fff" stroke-width="2.2" />
<path d="M298.8 514.6 L303.0 519.3 L298.8 524.0" fill="none" stroke="#fff" stroke-width="2.2" />
<text transform="translate(289.3 544.7) rotate(90)" font-size="10.4" font-weight="bold" fill="#fff" textLength="60.0" lengthAdjust="spacingAndGlyphs" >HATCHBACK</text>
<line x1="287.1" y1="544.2" x2="287.1" y2="606.8" stroke="#fff" stroke-width="1.3"/>
<text transform="translate(276.8 544.7) rotate(90)" font-size="10.4" font-weight="bold" fill="#fff" textLength="44.3" lengthAdjust="spacingAndGlyphs" >RELEASE</text>
<line x1="274.4" y1="543.2" x2="274.4" y2="590.0" stroke="#fff" stroke-width="1.3"/>
<text transform="translate(264.4 544.7) rotate(90)" font-size="10.4" font-weight="bold" fill="#fff" textLength="49.5" lengthAdjust="spacingAndGlyphs" >SOLENOID</text>
<line x1="261.2" y1="544.2" x2="261.2" y2="594.7" stroke="#fff" stroke-width="1.3"/>
<path d="M302.0 519.4 L335.0 519.3" fill="none" stroke="#fff" stroke-width="4.0" stroke-linejoin="miter"/>
<line x1="318.4" y1="520.4" x2="325.2" y2="518.2" stroke="#333" stroke-width="0.9"/>
<path d="M334.6 514.0 Q339.8 519.4 334.6 524.8" fill="none" stroke="#fff" stroke-width="2.6" stroke-linecap="round"/>
<path d="M339.4 519.4 L381.4 519.2" fill="none" stroke="#fff" stroke-width="4.0" stroke-linejoin="miter"/>
<line x1="348.6" y1="520.4" x2="355.4" y2="518.2" stroke="#333" stroke-width="0.9"/>
<line x1="369.6" y1="520.3" x2="376.4" y2="518.1" stroke="#333" stroke-width="0.9"/>
<path d="M381.0 513.2 Q387.8 519.2 381.0 525.2" fill="none" stroke="#fff" stroke-width="2.2" stroke-linecap="round"/>
<path d="M386.0 513.2 Q392.8 519.2 386.0 525.2" fill="none" stroke="#fff" stroke-width="2.2" stroke-linecap="round"/>
<path d="M389.6 519.2 L481.0 519.4" fill="none" stroke="#fff" stroke-width="4.0" stroke-linejoin="miter"/>
<line x1="399.9" y1="520.3" x2="406.7" y2="518.1" stroke="#333" stroke-width="0.9"/>
<line x1="422.8" y1="520.4" x2="429.6" y2="518.2" stroke="#333" stroke-width="0.9"/>
<line x1="445.6" y1="520.4" x2="452.4" y2="518.2" stroke="#333" stroke-width="0.9"/>
<line x1="468.5" y1="520.5" x2="475.3" y2="518.3" stroke="#333" stroke-width="0.9"/>
<path d="M484.6 513.6 Q477.8 519.6 484.6 525.6" fill="none" stroke="#fff" stroke-width="2.2" stroke-linecap="round"/>
<path d="M489.4 513.8 Q482.6 519.8 489.4 525.8" fill="none" stroke="#fff" stroke-width="2.2" stroke-linecap="round"/>
<path d="M488.6 520.2 L572.0 517.0" fill="none" stroke="#fff" stroke-width="4.0" stroke-linejoin="miter"/>
<line x1="501.9" y1="520.7" x2="508.7" y2="518.5" stroke="#333" stroke-width="0.9"/>
<line x1="529.7" y1="519.6" x2="536.5" y2="517.4" stroke="#333" stroke-width="0.9"/>
<line x1="557.5" y1="518.5" x2="564.3" y2="516.3" stroke="#333" stroke-width="0.9"/>
<text transform="translate(314.4 502.0) rotate(90)" font-size="10.0" font-weight="bold" fill="#fff" textLength="11.2" lengthAdjust="spacingAndGlyphs" >84</text>
<text transform="translate(314.4 527.0) rotate(90)" font-size="10.0" font-weight="bold" fill="#fff" textLength="15.3" lengthAdjust="spacingAndGlyphs" >P/Y</text>
<text transform="translate(358.8 502.0) rotate(90)" font-size="10.0" font-weight="bold" fill="#fff" textLength="11.2" lengthAdjust="spacingAndGlyphs" >84</text>
<text transform="translate(358.8 527.0) rotate(90)" font-size="10.0" font-weight="bold" fill="#fff" textLength="15.3" lengthAdjust="spacingAndGlyphs" >P/Y</text>
<text transform="translate(427.8 502.0) rotate(90)" font-size="10.0" font-weight="bold" fill="#fff" textLength="11.2" lengthAdjust="spacingAndGlyphs" >84</text>
<text transform="translate(427.8 527.0) rotate(90)" font-size="10.0" font-weight="bold" fill="#fff" textLength="15.3" lengthAdjust="spacingAndGlyphs" >P/Y</text>
<text transform="translate(525.6 499.4) rotate(90)" font-size="10.0" font-weight="bold" fill="#fff" textLength="10.8" lengthAdjust="spacingAndGlyphs" >84</text>
<text transform="translate(525.6 523.4) rotate(90)" font-size="10.0" font-weight="bold" fill="#fff" textLength="15.6" lengthAdjust="spacingAndGlyphs" >P/Y</text>
<text transform="translate(331.8 529.0) rotate(90)" font-size="10.0" font-weight="bold" fill="#fff" textLength="22.0" lengthAdjust="spacingAndGlyphs" >C310</text>
<line x1="329.6" y1="527.6" x2="329.6" y2="553.6" stroke="#fff" stroke-width="1.3"/>
<text transform="translate(380.6 529.0) rotate(90)" font-size="10.0" font-weight="bold" fill="#fff" textLength="22.0" lengthAdjust="spacingAndGlyphs" >C308</text>
<line x1="378.0" y1="527.6" x2="378.0" y2="553.6" stroke="#fff" stroke-width="1.3"/>
<text transform="translate(481.4 529.6) rotate(90)" font-size="10.0" font-weight="bold" fill="#fff" textLength="22.0" lengthAdjust="spacingAndGlyphs" >C300</text>
<line x1="479.0" y1="528.0" x2="479.0" y2="554.2" stroke="#fff" stroke-width="1.3"/>
<rect x="576.2" y="497.8" width="48.0" height="36.0" fill="url(#gr)" stroke="#fff" stroke-width="2.6" />
<circle cx="588.6" cy="518.6" r="2.7" fill="#fff" stroke="none" stroke-width="0"/>
<circle cx="611.4" cy="517.2" r="2.8" fill="#fff" stroke="none" stroke-width="0"/>
<path d="M611.4 517.2 L593.0 506.6" fill="none" stroke="#fff" stroke-width="1.7" />
<path d="M592.7 506.4 L599.5 507.7 L597.2 511.7 Z" fill="#fff"/>
<path d="M578.6 518.6 L588.6 518.6" fill="none" stroke="#fff" stroke-width="1.1" />
<path d="M611.4 517.2 L621.8 517.2" fill="none" stroke="#fff" stroke-width="1.1" />
<path d="M582.6 514.4 L578.8 518.6 L582.6 522.8" fill="none" stroke="#fff" stroke-width="1.3" />
<path d="M617.8 513.0 L621.6 517.2 L617.8 521.4" fill="none" stroke="#fff" stroke-width="1.3" />
<path d="M572.4 511.4 Q569.0 517.4 572.4 523.4" fill="none" stroke="#fff" stroke-width="2.0"/>
<path d="M627.6 510.6 Q631.2 516.8 627.6 523.0" fill="none" stroke="#fff" stroke-width="2.0"/>
<text transform="translate(617.0 540.5) rotate(90)" font-size="10.4" font-weight="bold" fill="#fff" textLength="60.5" lengthAdjust="spacingAndGlyphs" >HATCHBACK</text>
<line x1="614.0" y1="539.0" x2="614.0" y2="604.0" stroke="#fff" stroke-width="1.3"/>
<text transform="translate(603.8 540.5) rotate(90)" font-size="10.4" font-weight="bold" fill="#fff" textLength="43.9" lengthAdjust="spacingAndGlyphs" >RELEASE</text>
<line x1="601.0" y1="539.0" x2="601.0" y2="587.0" stroke="#fff" stroke-width="1.3"/>
<text transform="translate(591.0 540.5) rotate(90)" font-size="10.4" font-weight="bold" fill="#fff" textLength="35.9" lengthAdjust="spacingAndGlyphs" >SWITCH</text>
<line x1="588.0" y1="539.0" x2="588.0" y2="579.0" stroke="#fff" stroke-width="1.3"/>
<path d="M718.4 232.6 L730.6 249.0" fill="none" stroke="#fff" stroke-width="6.6" stroke-linejoin="miter" stroke-linecap="square"/>
<path d="M730.8 250.0 L732.2 516.0" fill="none" stroke="#fff" stroke-width="7.8" stroke-linejoin="miter" stroke-linecap="square"/>
<path d="M733.0 517.1 L630.0 517.3" fill="none" stroke="#fff" stroke-width="5.8" stroke-linejoin="miter" stroke-linecap="square"/>
<path d="M718.4 232.6 L730.6 249.0" fill="none" stroke="#000" stroke-width="3.4" stroke-linejoin="miter" stroke-linecap="square"/>
<path d="M730.8 250.0 L732.2 516.0" fill="none" stroke="#000" stroke-width="4.4" stroke-linejoin="miter" stroke-linecap="square"/>
<path d="M733.0 517.1 L630.0 517.3" fill="none" stroke="#000" stroke-width="2.6" stroke-linejoin="miter" stroke-linecap="square"/>
<path d="M630.0 517.6 L733.0 517.2" fill="none" stroke="#000" stroke-width="2.4" />
<path d="M630.0 515.1 L734.0 515.0" fill="none" stroke="#fff" stroke-width="1.9" />
<path d="M630.0 519.4 L735.6 519.3" fill="none" stroke="#fff" stroke-width="1.3" />
<line x1="730.11" y1="252.0" x2="731.61" y2="262.0" stroke="#fff" stroke-width="1.9"/>
<line x1="730.20" y1="269.2" x2="731.70" y2="279.2" stroke="#fff" stroke-width="1.9"/>
<line x1="730.29" y1="286.4" x2="731.79" y2="296.4" stroke="#fff" stroke-width="1.9"/>
<line x1="730.38" y1="303.6" x2="731.88" y2="313.6" stroke="#fff" stroke-width="1.9"/>
<line x1="730.47" y1="320.8" x2="731.97" y2="330.8" stroke="#fff" stroke-width="1.9"/>
<line x1="730.56" y1="338.0" x2="732.06" y2="348.0" stroke="#fff" stroke-width="1.9"/>
<line x1="730.65" y1="355.2" x2="732.15" y2="365.2" stroke="#fff" stroke-width="1.9"/>
<line x1="730.74" y1="372.4" x2="732.24" y2="382.4" stroke="#fff" stroke-width="1.9"/>
<line x1="730.83" y1="389.6" x2="732.33" y2="399.6" stroke="#fff" stroke-width="1.9"/>
<line x1="730.93" y1="406.8" x2="732.43" y2="416.8" stroke="#fff" stroke-width="1.9"/>
<line x1="731.02" y1="424.0" x2="732.52" y2="434.0" stroke="#fff" stroke-width="1.9"/>
<line x1="731.11" y1="441.2" x2="732.61" y2="451.2" stroke="#fff" stroke-width="1.9"/>
<line x1="731.20" y1="458.4" x2="732.70" y2="468.4" stroke="#fff" stroke-width="1.9"/>
<line x1="731.29" y1="475.6" x2="732.79" y2="485.6" stroke="#fff" stroke-width="1.9"/>
<line x1="731.38" y1="492.8" x2="732.88" y2="502.8" stroke="#fff" stroke-width="1.9"/>
<line x1="636.0" y1="518.5" x2="643.4" y2="516.2" stroke="#fff" stroke-width="1.5"/>
<line x1="652.6" y1="518.5" x2="660.0" y2="516.2" stroke="#fff" stroke-width="1.5"/>
<line x1="669.2" y1="518.5" x2="676.6" y2="516.2" stroke="#fff" stroke-width="1.5"/>
<line x1="685.8" y1="518.5" x2="693.2" y2="516.2" stroke="#fff" stroke-width="1.5"/>
<line x1="702.4" y1="518.5" x2="709.8" y2="516.2" stroke="#fff" stroke-width="1.5"/>
<line x1="719.0" y1="518.5" x2="726.4" y2="516.2" stroke="#fff" stroke-width="1.5"/>
<text transform="translate(738.4 368.8) rotate(90)" font-size="10.0" font-weight="bold" fill="#fff" textLength="15.6" lengthAdjust="spacingAndGlyphs" >296</text>
<text transform="translate(716.0 368.8) rotate(90)" font-size="10.0" font-weight="bold" fill="#fff" textLength="15.6" lengthAdjust="spacingAndGlyphs" >W/P</text>
<path d="M629.0 518.6 L648.2 532.8 L648.4 592.0" fill="none" stroke="#fff" stroke-width="6.8" stroke-linejoin="miter"/>
<path d="M629.0 518.6 L648.2 532.8 L648.4 592.0" fill="none" stroke="#000" stroke-width="3.8" stroke-linejoin="miter"/>
<path d="M630.6 520.0 L648.0 534.0 L648.2 548.0" fill="none" stroke="#fff" stroke-width="1.1" />
<line x1="647.8" y1="552.0" x2="649.0" y2="560.0" stroke="#fff" stroke-width="1.6"/>
<line x1="647.8" y1="567.0" x2="649.0" y2="575.0" stroke="#fff" stroke-width="1.6"/>
<path d="M642.6 590.0 L655.8 590.0 L649.2 603.6 Z" fill="#fff"/>
<text transform="translate(655.6 552.4) rotate(90)" font-size="10.0" font-weight="bold" fill="#fff" textLength="16.0" lengthAdjust="spacingAndGlyphs" >296</text>
<text transform="translate(634.0 551.0) rotate(90)" font-size="10.0" font-weight="bold" fill="#fff" textLength="16.6" lengthAdjust="spacingAndGlyphs" >W/P</text>
<text transform="translate(654.8 608.8) rotate(90)" font-size="10.6" font-weight="bold" fill="#fff" textLength="42.8" lengthAdjust="spacingAndGlyphs" >GRAPHIC</text>
<text transform="translate(643.6 608.8) rotate(90)" font-size="10.6" font-weight="bold" fill="#fff" textLength="41.2" lengthAdjust="spacingAndGlyphs" >DISPLAY</text>
<rect x="795.1" y="188.3" width="13.6" height="102.3" fill="#fff" stroke="none" stroke-width="0" />
<text transform="translate(800.8 191.4) rotate(90)" font-size="10.9" font-weight="bold" fill="#000" textLength="96.4" lengthAdjust="spacingAndGlyphs" >HOT IN ACCY OR RUN</text>
<rect x="745.0" y="220.0" width="49.0" height="36.6" fill="url(#gr)" stroke="none" stroke-width="0" />
<path d="M743.7 220.0 L757.3 220.0" fill="none" stroke="#fff" stroke-width="2.6" />
<path d="M760.7 220.0 L773.2 220.0" fill="none" stroke="#fff" stroke-width="2.6" />
<path d="M776.6 220.0 L795.3 220.0" fill="none" stroke="#fff" stroke-width="2.6" />
<path d="M743.7 256.6 L757.3 256.6" fill="none" stroke="#fff" stroke-width="2.6" />
<path d="M760.7 256.6 L773.2 256.6" fill="none" stroke="#fff" stroke-width="2.6" />
<path d="M776.6 256.6 L795.3 256.6" fill="none" stroke="#fff" stroke-width="2.6" />
<path d="M745.0 220.0 L745.0 228.9" fill="none" stroke="#fff" stroke-width="2.6" />
<path d="M745.0 232.3 L745.0 256.6" fill="none" stroke="#fff" stroke-width="2.6" />
<path d="M794.0 220.0 L794.0 228.9" fill="none" stroke="#fff" stroke-width="2.6" />
<path d="M794.0 232.3 L794.0 256.6" fill="none" stroke="#fff" stroke-width="2.6" />
<circle cx="756.6" cy="229.2" r="2.5" fill="#fff" stroke="none" stroke-width="0"/>
<circle cx="781.6" cy="228.8" r="2.5" fill="#fff" stroke="none" stroke-width="0"/>
<path d="M756.6 229.2 Q760 225.4 764.6 226.4 Q768.4 227.4 769.4 230.0 Q771.4 233.4 775.6 231.6 Q778.8 230.2 781.6 228.8" fill="none" stroke="#fff" stroke-width="1.4"/>
<text transform="translate(754.0 233.4) rotate(90)" font-size="8.8" font-weight="bold" fill="#fff" textLength="17.4" lengthAdjust="spacingAndGlyphs" paint-order="stroke" stroke="#000" stroke-width="1.4">20A</text>
<text transform="translate(778.0 237.6) rotate(90)" font-size="8.8" font-weight="bold" fill="#fff" textLength="5.6" lengthAdjust="spacingAndGlyphs" paint-order="stroke" stroke="#000" stroke-width="1.4">6</text>
<text transform="translate(786.1 262.2) rotate(90)" font-size="10.4" font-weight="bold" fill="#fff" textLength="22.4" lengthAdjust="spacingAndGlyphs" >FUSE</text>
<line x1="784.0" y1="260.4" x2="784.0" y2="287.3" stroke="#fff" stroke-width="1.3"/>
<text transform="translate(773.6 262.2) rotate(90)" font-size="10.4" font-weight="bold" fill="#fff" textLength="30.0" lengthAdjust="spacingAndGlyphs" >PANEL</text>
<line x1="771.6" y1="260.2" x2="771.6" y2="292.8" stroke="#fff" stroke-width="1.3"/>
<path d="M745.0 230.0 L717.4 230.0" fill="none" stroke="#fff" stroke-width="6.2" stroke-linejoin="miter"/>
<path d="M745.0 230.0 L717.4 230.0" fill="none" stroke="#000" stroke-width="3.4" stroke-linejoin="miter"/>
<text transform="translate(734.2 206.1) rotate(90)" font-size="10.0" font-weight="bold" fill="#fff" textLength="15.3" lengthAdjust="spacingAndGlyphs" >296</text>
<text transform="translate(734.2 236.1) rotate(90)" font-size="10.0" font-weight="bold" fill="#fff" textLength="15.8" lengthAdjust="spacingAndGlyphs" >W/P</text>
<path d="M709.6 224.2 Q713.2 229.8 709.6 235.4" fill="none" stroke="#fff" stroke-width="2.2" stroke-linecap="round"/>
<path d="M714.2 224.2 Q718.0 229.8 714.2 235.4" fill="none" stroke="#fff" stroke-width="2.2" stroke-linecap="round"/>
<rect x="694.6" y="196.8" width="12.4" height="67.8" fill="#fff" stroke="none" stroke-width="0" />
<path d="M690.0 201.6 Q696.4 207.6 690.0 213.6" fill="none" stroke="#fff" stroke-width="2.6"/>
<path d="M690.0 224.6 Q696.4 230.6 690.0 236.6" fill="none" stroke="#fff" stroke-width="2.6"/>
<path d="M690.0 249.2 Q696.4 255.2 690.0 261.2" fill="none" stroke="#fff" stroke-width="2.6"/>
<text transform="translate(697.6 271.8) rotate(90)" font-size="9.6" font-weight="bold" fill="#fff" textLength="20.8" lengthAdjust="spacingAndGlyphs" >C303</text>
<line x1="695.2" y1="270.4" x2="695.2" y2="295.0" stroke="#fff" stroke-width="1.3"/>
<path d="M686.4 230.0 L640.8 229.8" fill="none" stroke="#fff" stroke-width="6.0" stroke-linejoin="miter"/>
<path d="M686.4 230.0 L640.8 229.8" fill="none" stroke="#000" stroke-width="3.4" stroke-linejoin="miter"/>
<line x1="649.0" y1="230.6" x2="655.0" y2="228.6" stroke="#fff" stroke-width="1.2"/>
<line x1="661.5" y1="230.6" x2="667.5" y2="228.6" stroke="#fff" stroke-width="1.2"/>
<line x1="674.0" y1="230.6" x2="680.0" y2="228.6" stroke="#fff" stroke-width="1.2"/>
<path d="M685.0 224.8 Q689.4 230.2 685.0 235.6" fill="none" stroke="#fff" stroke-width="2.2" stroke-linecap="round"/>
<path d="M637.0 224.0 Q643.0 229.6 637.0 235.2" fill="none" stroke="#fff" stroke-width="2.0" stroke-linecap="round"/>
<text transform="translate(644.8 204.0) rotate(90)" font-size="10.0" font-weight="bold" fill="#fff" textLength="16.8" lengthAdjust="spacingAndGlyphs" >296</text>
<text transform="translate(644.8 239.6) rotate(90)" font-size="10.0" font-weight="bold" fill="#fff" textLength="16.4" lengthAdjust="spacingAndGlyphs" >W/P</text>
<rect x="584.4" y="221.2" width="48.2" height="34.2" fill="url(#gr)" stroke="#fff" stroke-width="2.2" />
<circle cx="594.6" cy="230.6" r="2.2" fill="#fff" stroke="none" stroke-width="0"/>
<circle cx="620.6" cy="230.2" r="2.2" fill="#fff" stroke="none" stroke-width="0"/>
<path d="M594.6 230.6 Q607.6 216.6 620.6 230.2" fill="none" stroke="#fff" stroke-width="1.6"/>
<path d="M586.4 230.6 L594.6 230.6" fill="none" stroke="#fff" stroke-width="1.0" />
<path d="M620.6 230.2 L630.6 230.2" fill="none" stroke="#fff" stroke-width="1.0" />
<text transform="translate(592.6 233.4) rotate(90)" font-size="8.8" font-weight="bold" fill="#fff" textLength="19.2" lengthAdjust="spacingAndGlyphs" paint-order="stroke" stroke="#000" stroke-width="1.2">4.5A</text>
<text transform="translate(626.4 263.6) rotate(90)" font-size="10.6" font-weight="bold" fill="#fff" textLength="60.4" lengthAdjust="spacingAndGlyphs" >HATCHBACK</text>
<line x1="623.6" y1="262.4" x2="623.6" y2="327.0" stroke="#fff" stroke-width="1.3"/>
<text transform="translate(613.8 263.6) rotate(90)" font-size="10.6" font-weight="bold" fill="#fff" textLength="39.4" lengthAdjust="spacingAndGlyphs" >CIRCUIT</text>
<line x1="610.8" y1="262.4" x2="610.8" y2="305.5" stroke="#fff" stroke-width="1.3"/>
<text transform="translate(601.4 263.6) rotate(90)" font-size="10.6" font-weight="bold" fill="#fff" textLength="47.2" lengthAdjust="spacingAndGlyphs" >BREAKER</text>
<line x1="598.4" y1="262.4" x2="598.4" y2="313.5" stroke="#fff" stroke-width="1.3"/>
<path d="M577.6 224.0 L581.6 229.8 L577.6 235.6" fill="none" stroke="#fff" stroke-width="2.0" />
<path d="M577.6 229.6 L548.4 229.6" fill="none" stroke="#fff" stroke-width="5.8" stroke-linejoin="miter"/>
<path d="M577.6 229.6 L548.4 229.6" fill="none" stroke="#000" stroke-width="3.4" stroke-linejoin="miter"/>
<path d="M543.0 224.4 L547.8 229.6 L543.0 234.8" fill="none" stroke="#fff" stroke-width="2.0" />
<text transform="translate(547.8 205.8) rotate(90)" font-size="10.0" font-weight="bold" fill="#fff" textLength="15.2" lengthAdjust="spacingAndGlyphs" >296</text>
<text transform="translate(545.8 237.4) rotate(90)" font-size="10.0" font-weight="bold" fill="#fff" textLength="38.6" lengthAdjust="spacingAndGlyphs" >W/P C17C</text>
<rect x="558.2" y="35.6" width="113.4" height="102.8" fill="none" stroke="#fff" stroke-width="1.6" />
<rect x="616.4" y="46.2" width="46.6" height="31.8" fill="none" stroke="#fff" stroke-width="2.2" />
<text transform="translate(599.8 46.3) rotate(90)" font-size="9.2" font-weight="bold" fill="#fff" textLength="51.6" lengthAdjust="spacingAndGlyphs" >HATCHBACK</text>
<text transform="translate(588.6 46.3) rotate(90)" font-size="9.2" font-weight="bold" fill="#fff" textLength="65.0" lengthAdjust="spacingAndGlyphs" >WIPER/WASHER</text>
<text transform="translate(577.6 46.3) rotate(90)" font-size="9.2" font-weight="bold" fill="#fff" textLength="40.9" lengthAdjust="spacingAndGlyphs" >CONTROL</text>
<text transform="translate(567.2 46.3) rotate(90)" font-size="9.2" font-weight="bold" fill="#fff" textLength="49.5" lengthAdjust="spacingAndGlyphs" >TERMINALS</text>
<text transform="translate(654.6 89.3) rotate(90)" font-size="9.2" font-weight="bold" fill="#fff" textLength="17.9" lengthAdjust="spacingAndGlyphs" >58 W</text>
<text transform="translate(638.2 89.3) rotate(90)" font-size="9.2" font-weight="bold" fill="#fff" textLength="38.0" lengthAdjust="spacingAndGlyphs" >941 BR/W</text>
<text transform="translate(621.9 89.3) rotate(90)" font-size="9.2" font-weight="bold" fill="#fff" textLength="30.2" lengthAdjust="spacingAndGlyphs" >296 W/P</text>
<path d="M624.9 67.2 L624.9 83.6" fill="none" stroke="#b8b8b8" stroke-width="1.1" />
<path d="M645.0 55.8 L639.9 55.8 L639.9 83.6" fill="none" stroke="#b8b8b8" stroke-width="1.1" />
<path d="M648.0 68.0 L657.8 68.0 L657.8 83.6" fill="none" stroke="#b8b8b8" stroke-width="1.1" />
<rect x="622.7" y="58.2" width="4.4" height="9.0" fill="#f4f4f4" stroke="none" stroke-width="0" />
<rect x="644.4" y="52.2" width="4.5" height="7.2" fill="#f4f4f4" stroke="none" stroke-width="0" />
<rect x="644.4" y="64.3" width="4.9" height="8.1" fill="#f4f4f4" stroke="none" stroke-width="0" />
<text transform="translate(679.2 33.7) rotate(90)" font-size="10.0" font-weight="bold" fill="#fff" textLength="22.1" lengthAdjust="spacingAndGlyphs" >C170</text>
<line x1="676.6" y1="33.2" x2="676.6" y2="57.0" stroke="#fff" stroke-width="1.3"/>
<rect x="683.9" y="77.1" width="42.9" height="111.4" fill="none" stroke="#fff" stroke-width="1.6" />
<text transform="translate(712.6 82.8) rotate(90)" font-size="10.5" font-weight="bold" fill="#fff" textLength="99.9" lengthAdjust="spacingAndGlyphs" >SEE CHARGE/POWER</text>
<text transform="translate(699.6 82.8) rotate(90)" font-size="10.5" font-weight="bold" fill="#fff" textLength="72.2" lengthAdjust="spacingAndGlyphs" >DISTRIBUTION</text>
<rect x="738.3" y="77.1" width="46.1" height="84.5" fill="none" stroke="#fff" stroke-width="1.6" />
<text transform="translate(765.2 82.8) rotate(90)" font-size="15.5" font-weight="bold" fill="#fff" textLength="69.8" lengthAdjust="spacingAndGlyphs" >3 DR, 5 DR</text>
<text transform="translate(747.2 82.8) rotate(90)" font-size="15.5" font-weight="bold" fill="#fff" textLength="73.7" lengthAdjust="spacingAndGlyphs" >HATCHBACK</text>
<rect x="747.2" y="595.6" width="28.0" height="52.4" fill="none" stroke="#fff" stroke-width="1.7" />
<text transform="translate(753.4 605.4) rotate(90)" font-size="21.2" font-weight="bold" fill="#fff" textLength="36.2" lengthAdjust="spacingAndGlyphs" >EXP</text>
<ellipse cx="106.4" cy="755.0" rx="4.9" ry="4.9" fill="#fff"/>
<line x1="100.1" y1="747.8" x2="100.1" y2="762.2" stroke="#fff" stroke-width="1.5"/>
<line x1="96.8" y1="750.0" x2="96.8" y2="760.0" stroke="#fff" stroke-width="1.5"/>
<line x1="93.6" y1="752.1" x2="93.6" y2="757.9" stroke="#fff" stroke-width="1.5"/>
<path d="M113.8 755.0 L131.4 755.0" fill="none" stroke="#fff" stroke-width="6.6" stroke-linejoin="miter"/>
<path d="M134.6 755.0 L152.8 755.0" fill="none" stroke="#fff" stroke-width="6.6" stroke-linejoin="miter"/>
<path d="M156.4 755.0 L176.6 755.0" fill="none" stroke="#fff" stroke-width="6.6" stroke-linejoin="miter"/>
<path d="M180.2 755.0 L199.0 755.0" fill="none" stroke="#fff" stroke-width="6.6" stroke-linejoin="miter"/>
<circle cx="203.4" cy="754.8" r="4.5" fill="#fff" stroke="none" stroke-width="0"/>
<path d="M207 752.1 L293.6 751.2 L293.6 758.4 L207 758.2 Z" fill="#fff"/>
<text transform="translate(248.4 737.0) rotate(90)" font-size="10.0" font-weight="bold" fill="#fff" textLength="10.2" lengthAdjust="spacingAndGlyphs" >57</text>
<text transform="translate(248.4 761.4) rotate(90)" font-size="10.0" font-weight="bold" fill="#fff" textLength="11.8" lengthAdjust="spacingAndGlyphs" >BK</text>
<text transform="translate(199.8 762.6) rotate(90)" font-size="10.0" font-weight="bold" fill="#fff" textLength="21.4" lengthAdjust="spacingAndGlyphs" >S108</text>
<line x1="197.2" y1="761.0" x2="197.2" y2="786.6" stroke="#fff" stroke-width="1.3"/>
<text transform="translate(152.8 761.4) rotate(90)" font-size="10.0" font-weight="bold" fill="#fff" textLength="11.8" lengthAdjust="spacingAndGlyphs" >BK</text>
<text transform="translate(105.0 764.0) rotate(90)" font-size="10.0" font-weight="bold" fill="#fff" textLength="22.4" lengthAdjust="spacingAndGlyphs" >G120</text>
<line x1="102.2" y1="762.4" x2="102.2" y2="789.0" stroke="#fff" stroke-width="1.3"/>
<rect x="115.6" y="796.2" width="31.0" height="82.4" fill="none" stroke="#fff" stroke-width="1.5" />
<text transform="translate(133.2 802.8) rotate(90)" font-size="10.6" font-weight="bold" fill="#fff" textLength="70.2" lengthAdjust="spacingAndGlyphs" >SEE GROUNDS</text>
<path d="M296.4 748.4 Q291.4 754.6 296.4 760.8" fill="none" stroke="#fff" stroke-width="2.2"/>
<rect x="298.4" y="735.4" width="49.4" height="35.8" fill="url(#dz)" stroke="#fff" stroke-width="2.6" />
<path d="M301.4 754.1 L310.9 754.1 q3.30 -5.20 6.60 0 q3.30 -5.20 6.60 0 q3.30 -5.20 6.60 0 q3.30 -5.20 6.60 0 L344.8 754.1" fill="none" stroke="#fff" stroke-width="1.3"/>
<path d="M310.9 743.5 L336.3 743.5" fill="none" stroke="#fff" stroke-width="1.3" />
<path d="M310.9 747.1 L336.3 747.1" fill="none" stroke="#fff" stroke-width="1.3" />
<path d="M305.8 749.7 L301.4 754.1 L305.8 758.5" fill="none" stroke="#fff" stroke-width="1.3" />
<path d="M340.4 749.7 L344.8 754.1 L340.4 758.5" fill="none" stroke="#fff" stroke-width="1.3" />
<text transform="translate(342.6 778.2) rotate(90)" font-size="10.2" font-weight="bold" fill="#fff" textLength="61.2" lengthAdjust="spacingAndGlyphs" >HATCHBACK</text>
<line x1="339.9" y1="777.5" x2="339.9" y2="841.5" stroke="#fff" stroke-width="1.3"/>
<text transform="translate(330.0 778.6) rotate(90)" font-size="10.2" font-weight="bold" fill="#fff" textLength="44.0" lengthAdjust="spacingAndGlyphs" >RELEASE</text>
<line x1="327.7" y1="777.5" x2="327.7" y2="824.7" stroke="#fff" stroke-width="1.3"/>
<text transform="translate(317.2 778.2) rotate(90)" font-size="10.2" font-weight="bold" fill="#fff" textLength="50.5" lengthAdjust="spacingAndGlyphs" >SOLENOID</text>
<line x1="314.1" y1="777.5" x2="314.1" y2="829.7" stroke="#fff" stroke-width="1.3"/>
<path d="M349.4 748.2 Q352.4 748.6 354.6 754.0 Q352.4 759.6 349.4 760.0" fill="none" stroke="#fff" stroke-width="1.8"/>
<path d="M352.0 754.2 L386.6 753.4" fill="none" stroke="#fff" stroke-width="4.6" stroke-linejoin="miter"/>
<line x1="369.4" y1="754.8" x2="376.2" y2="752.6" stroke="#333" stroke-width="0.9"/>
<path d="M386.2 747.4 Q392.6 753.4 386.2 759.4" fill="none" stroke="#fff" stroke-width="2.2" stroke-linecap="round"/>
<path d="M390.6 747.4 Q397.0 753.4 390.6 759.4" fill="none" stroke="#fff" stroke-width="2.2" stroke-linecap="round"/>
<path d="M394.0 753.2 L437.0 752.0" fill="none" stroke="#fff" stroke-width="4.6" stroke-linejoin="miter"/>
<line x1="403.5" y1="753.9" x2="410.3" y2="751.7" stroke="#333" stroke-width="0.9"/>
<line x1="425.0" y1="753.3" x2="431.8" y2="751.1" stroke="#333" stroke-width="0.9"/>
<path d="M440.2 746.0 Q433.8 752.0 440.2 758.0" fill="none" stroke="#fff" stroke-width="2.2" stroke-linecap="round"/>
<path d="M444.8 745.9 Q438.4 751.9 444.8 757.9" fill="none" stroke="#fff" stroke-width="2.2" stroke-linecap="round"/>
<path d="M444.6 751.8 L492.4 750.6" fill="none" stroke="#fff" stroke-width="4.6" stroke-linejoin="miter"/>
<line x1="455.5" y1="752.5" x2="462.3" y2="750.3" stroke="#333" stroke-width="0.9"/>
<line x1="479.4" y1="751.9" x2="486.2" y2="749.7" stroke="#333" stroke-width="0.9"/>
<path d="M494.6 744.6 Q489.4 750.8 494.6 757.0" fill="none" stroke="#fff" stroke-width="2.2"/>
<text transform="translate(364.8 733.0) rotate(90)" font-size="10.0" font-weight="bold" fill="#fff" textLength="11.2" lengthAdjust="spacingAndGlyphs" >84</text>
<text transform="translate(364.8 762.6) rotate(90)" font-size="10.0" font-weight="bold" fill="#fff" textLength="15.2" lengthAdjust="spacingAndGlyphs" >P/Y</text>
<text transform="translate(408.2 733.0) rotate(90)" font-size="10.0" font-weight="bold" fill="#fff" textLength="11.2" lengthAdjust="spacingAndGlyphs" >84</text>
<text transform="translate(408.2 762.6) rotate(90)" font-size="10.0" font-weight="bold" fill="#fff" textLength="15.2" lengthAdjust="spacingAndGlyphs" >P/Y</text>
<text transform="translate(457.0 732.0) rotate(90)" font-size="10.0" font-weight="bold" fill="#fff" textLength="10.8" lengthAdjust="spacingAndGlyphs" >84</text>
<text transform="translate(457.0 762.6) rotate(90)" font-size="10.0" font-weight="bold" fill="#fff" textLength="13.8" lengthAdjust="spacingAndGlyphs" >P/Y</text>
<text transform="translate(386.8 764.0) rotate(90)" font-size="10.0" font-weight="bold" fill="#fff" textLength="23.0" lengthAdjust="spacingAndGlyphs" >C308</text>
<line x1="384.4" y1="762.6" x2="384.4" y2="789.6" stroke="#fff" stroke-width="1.3"/>
<text transform="translate(438.0 763.4) rotate(90)" font-size="10.0" font-weight="bold" fill="#fff" textLength="22.0" lengthAdjust="spacingAndGlyphs" >C300</text>
<line x1="435.4" y1="762.0" x2="435.4" y2="789.0" stroke="#fff" stroke-width="1.3"/>
<rect x="497.4" y="734.0" width="45.4" height="33.6" fill="url(#dz)" stroke="#fff" stroke-width="2.3" />
<circle cx="509.0" cy="751.0" r="2.7" fill="#fff" stroke="none" stroke-width="0"/>
<circle cx="531.6" cy="751.0" r="2.8" fill="#fff" stroke="none" stroke-width="0"/>
<path d="M531.6 751.0 L515.6 741.8" fill="none" stroke="#fff" stroke-width="1.7" />
<path d="M515.3 741.6 L522.1 742.9 L519.8 746.9 Z" fill="#fff"/>
<path d="M499.8 751.0 L509.0 751.0" fill="none" stroke="#fff" stroke-width="1.1" />
<path d="M531.6 751.0 L540.4 751.0" fill="none" stroke="#fff" stroke-width="1.1" />
<path d="M503.8 746.8 L500.0 751.0 L503.8 755.2" fill="none" stroke="#fff" stroke-width="1.3" />
<path d="M536.4 746.8 L540.2 751.0 L536.4 755.2" fill="none" stroke="#fff" stroke-width="1.3" />
<text transform="translate(534.7 774.2) rotate(90)" font-size="10.3" font-weight="bold" fill="#fff" textLength="60.8" lengthAdjust="spacingAndGlyphs" >HATCHBACK</text>
<line x1="532.9" y1="773.1" x2="532.9" y2="837.5" stroke="#fff" stroke-width="1.3"/>
<text transform="translate(522.2 774.2) rotate(90)" font-size="10.1" font-weight="bold" fill="#fff" textLength="44.3" lengthAdjust="spacingAndGlyphs" >RELEASE</text>
<line x1="519.9" y1="773.1" x2="519.9" y2="819.2" stroke="#fff" stroke-width="1.3"/>
<text transform="translate(509.6 774.2) rotate(90)" font-size="10.0" font-weight="bold" fill="#fff" textLength="36.4" lengthAdjust="spacingAndGlyphs" >SWITCH</text>
<line x1="507.0" y1="773.1" x2="507.0" y2="811.4" stroke="#fff" stroke-width="1.3"/>
<path d="M546.0 743.4 Q550.0 749.6 546.0 755.8" fill="none" stroke="#fff" stroke-width="2.0"/>
<path d="M549.6 751.3 L601.4 751.3 L618.6 785.8" fill="none" stroke="#fff" stroke-width="6.3" stroke-linejoin="miter" stroke-linecap="square"/>
<path d="M619.4 785.8 L636.8 750.5 L751.0 750.2" fill="none" stroke="#fff" stroke-width="6.0" stroke-linejoin="miter" stroke-linecap="square"/>
<path d="M550.2 752.6 L570.6 789.4 L571.2 850.0" fill="none" stroke="#fff" stroke-width="6.6" stroke-linejoin="miter" stroke-linecap="square"/>
<path d="M549.6 751.3 L601.4 751.3 L618.6 785.8" fill="none" stroke="#000" stroke-width="3.5" stroke-linejoin="miter" stroke-linecap="square"/>
<path d="M619.4 785.8 L636.8 750.5 L751.0 750.2" fill="none" stroke="#000" stroke-width="3.4" stroke-linejoin="miter" stroke-linecap="square"/>
<path d="M550.2 752.6 L570.6 789.4 L571.2 850.0" fill="none" stroke="#000" stroke-width="3.8" stroke-linejoin="miter" stroke-linecap="square"/>
<line x1="560.0" y1="752.2" x2="567.0" y2="750.4" stroke="#fff" stroke-width="1.4"/>
<line x1="576.0" y1="752.2" x2="583.0" y2="750.4" stroke="#fff" stroke-width="1.4"/>
<line x1="650.0" y1="751.3" x2="657.0" y2="749.5" stroke="#fff" stroke-width="1.4"/>
<line x1="667.0" y1="751.3" x2="674.0" y2="749.5" stroke="#fff" stroke-width="1.4"/>
<line x1="684.0" y1="751.3" x2="691.0" y2="749.5" stroke="#fff" stroke-width="1.4"/>
<line x1="701.0" y1="751.3" x2="708.0" y2="749.5" stroke="#fff" stroke-width="1.4"/>
<line x1="718.0" y1="751.3" x2="725.0" y2="749.5" stroke="#fff" stroke-width="1.4"/>
<line x1="735.0" y1="751.3" x2="742.0" y2="749.5" stroke="#fff" stroke-width="1.4"/>
<line x1="570.6" y1="800.0" x2="571.6" y2="808.0" stroke="#fff" stroke-width="1.5"/>
<line x1="570.6" y1="815.0" x2="571.6" y2="823.0" stroke="#fff" stroke-width="1.5"/>
<line x1="570.6" y1="830.0" x2="571.6" y2="838.0" stroke="#fff" stroke-width="1.5"/>
<path d="M604.6 757.0 L613.6 775.0" fill="none" stroke="#fff" stroke-width="1.2" />
<path d="M632.2 757.0 L624.4 773.0" fill="none" stroke="#fff" stroke-width="1.2" />
<path d="M556.4 762.0 L563.0 774.0" fill="none" stroke="#fff" stroke-width="1.2" />
<path d="M563.6 848.4 L579.0 848.4 L571.4 862.4 Z" fill="#fff"/>
<text transform="translate(590.0 726.1) rotate(90)" font-size="10.0" font-weight="bold" fill="#fff" textLength="18.3" lengthAdjust="spacingAndGlyphs" >296</text>
<text transform="translate(590.2 757.4) rotate(90)" font-size="10.0" font-weight="bold" fill="#fff" textLength="16.7" lengthAdjust="spacingAndGlyphs" >W/P</text>
<text transform="translate(715.3 724.8) rotate(90)" font-size="10.0" font-weight="bold" fill="#fff" textLength="17.6" lengthAdjust="spacingAndGlyphs" >296</text>
<text transform="translate(715.3 757.6) rotate(90)" font-size="10.0" font-weight="bold" fill="#fff" textLength="16.0" lengthAdjust="spacingAndGlyphs" >W/P</text>
<text transform="translate(578.0 814.4) rotate(90)" font-size="10.0" font-weight="bold" fill="#fff" textLength="16.8" lengthAdjust="spacingAndGlyphs" >296</text>
<text transform="translate(558.4 813.4) rotate(90)" font-size="10.0" font-weight="bold" fill="#fff" textLength="16.8" lengthAdjust="spacingAndGlyphs" >W/P</text>
<text transform="translate(573.4 868.2) rotate(90)" font-size="10.6" font-weight="bold" fill="#fff" textLength="42.8" lengthAdjust="spacingAndGlyphs" >GRAPHIC</text>
<text transform="translate(560.6 868.2) rotate(90)" font-size="10.6" font-weight="bold" fill="#fff" textLength="40.6" lengthAdjust="spacingAndGlyphs" >DISPLAY</text>
<rect x="587.3" y="798.0" width="65.6" height="13.2" fill="#fff" stroke="none" stroke-width="0" />
<path d="M613.0 791.4 Q618.6 784.0 624.2 791.4" fill="none" stroke="#fff" stroke-width="2.2"/>
<path d="M613.6 797.4 Q618.6 789.6 623.6 797.4" fill="none" stroke="#fff" stroke-width="2.2"/>
<path d="M591.0 816.2 Q596.4 808.2 601.8 816.2" fill="none" stroke="#fff" stroke-width="2.4"/>
<path d="M615.4 816.2 Q620.8 808.2 626.2 816.2" fill="none" stroke="#fff" stroke-width="2.4"/>
<path d="M639.1 816.2 Q644.5 808.2 649.9 816.2" fill="none" stroke="#fff" stroke-width="2.4"/>
<text transform="translate(659.0 797.6) rotate(90)" font-size="10.6" font-weight="bold" fill="#fff" textLength="24.3" lengthAdjust="spacingAndGlyphs" >C303</text>
<line x1="656.6" y1="796.8" x2="656.6" y2="822.0" stroke="#fff" stroke-width="1.3"/>
<rect x="751.9" y="743.7" width="48.2" height="32.9" fill="url(#gr)" stroke="none" stroke-width="0" />
<path d="M750.6 743.7 L763.9 743.7" fill="none" stroke="#fff" stroke-width="2.6" />
<path d="M767.3 743.7 L779.6 743.7" fill="none" stroke="#fff" stroke-width="2.6" />
<path d="M783.0 743.7 L801.4 743.7" fill="none" stroke="#fff" stroke-width="2.6" />
<path d="M750.6 776.6 L763.9 776.6" fill="none" stroke="#fff" stroke-width="2.6" />
<path d="M767.3 776.6 L779.6 776.6" fill="none" stroke="#fff" stroke-width="2.6" />
<path d="M783.0 776.6 L801.4 776.6" fill="none" stroke="#fff" stroke-width="2.6" />
<path d="M751.9 743.7 L751.9 751.5" fill="none" stroke="#fff" stroke-width="2.6" />
<path d="M751.9 754.9 L751.9 776.6" fill="none" stroke="#fff" stroke-width="2.6" />
<path d="M800.1 743.7 L800.1 751.5" fill="none" stroke="#fff" stroke-width="2.6" />
<path d="M800.1 754.9 L800.1 776.6" fill="none" stroke="#fff" stroke-width="2.6" />
<circle cx="761.8" cy="752.3" r="3.0" fill="#fff" stroke="none" stroke-width="0"/>
<circle cx="787.2" cy="752.6" r="3.0" fill="#fff" stroke="none" stroke-width="0"/>
<path d="M761.8 752.3 Q765.4 748.0 769.8 749.4 Q773.2 750.6 774.2 753.4 Q776.2 757.0 780.4 755.6 Q784.0 754.2 787.2 752.6" fill="none" stroke="#fff" stroke-width="1.6"/>
<text transform="translate(758.7 756.9) rotate(90)" font-size="8.8" font-weight="bold" fill="#fff" textLength="16.0" lengthAdjust="spacingAndGlyphs" paint-order="stroke" stroke="#000" stroke-width="1.4">20A</text>
<text transform="translate(785.6 759.8) rotate(90)" font-size="8.6" font-weight="bold" fill="#fff" textLength="5.4" lengthAdjust="spacingAndGlyphs" paint-order="stroke" stroke="#000" stroke-width="1.4">6</text>
<text transform="translate(792.7 785.8) rotate(90)" font-size="10.8" font-weight="bold" fill="#fff" textLength="24.4" lengthAdjust="spacingAndGlyphs" >FUSE</text>
<line x1="790.6" y1="785.0" x2="790.6" y2="810.6" stroke="#fff" stroke-width="1.3"/>
<text transform="translate(780.5 782.8) rotate(90)" font-size="10.6" font-weight="bold" fill="#fff" textLength="29.7" lengthAdjust="spacingAndGlyphs" >PANEL</text>
<line x1="778.0" y1="782.0" x2="778.0" y2="818.6" stroke="#fff" stroke-width="1.3"/>
<rect x="803.7" y="714.5" width="15.6" height="94.2" fill="url(#lt)" stroke="none" stroke-width="0" />
<text transform="translate(807.6 717.2) rotate(90)" font-size="12.4" font-weight="bold" fill="#fff" textLength="89.2" lengthAdjust="spacingAndGlyphs" paint-order="stroke" stroke="#000" stroke-width="1.5">HOT IN ACCY OR RUN</text>
<rect x="679.2" y="808.0" width="42.2" height="110.4" fill="none" stroke="#fff" stroke-width="1.5" />
<text transform="translate(706.4 813.0) rotate(90)" font-size="10.6" font-weight="bold" fill="#fff" textLength="100.4" lengthAdjust="spacingAndGlyphs" >SEE CHARGE/POWER</text>
<text transform="translate(693.8 813.0) rotate(90)" font-size="10.6" font-weight="bold" fill="#fff" textLength="72.0" lengthAdjust="spacingAndGlyphs" >DISTRIBUTION</text>
</svg>
</body></html>
